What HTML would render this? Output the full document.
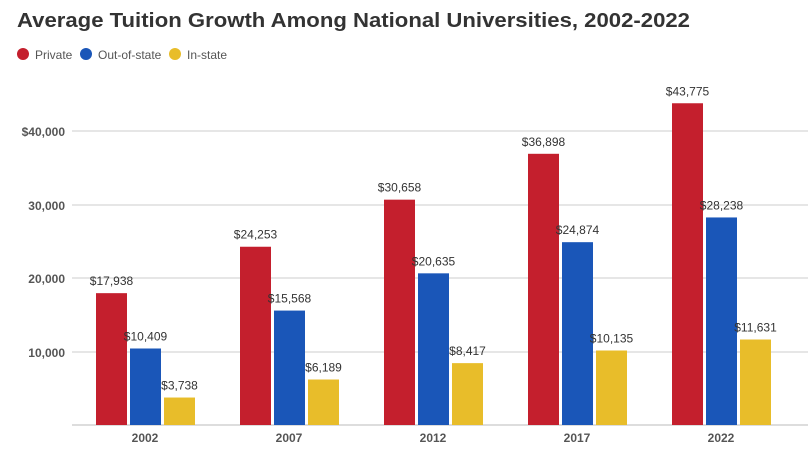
<!DOCTYPE html>
<html><head><meta charset="utf-8"><style>
body{margin:0;background:#fff;width:808px;height:457px;overflow:hidden}
svg{font-family:"Liberation Sans",sans-serif}
</style></head><body>
<svg width="808" height="457" viewBox="0 0 808 457">
<text x="17" y="27" font-size="20.5" font-weight="bold" fill="#333" textLength="673" lengthAdjust="spacingAndGlyphs">Average Tuition Growth Among National Universities, 2002-2022</text>
<circle cx="23" cy="54" r="6" fill="#c41f2d"/><text x="35" y="59" font-size="12" fill="#555">Private</text>
<circle cx="86" cy="54" r="6" fill="#1a56b8"/><text x="98" y="59" font-size="12" fill="#555">Out-of-state</text>
<circle cx="175" cy="54" r="6" fill="#e8bd2a"/><text x="187" y="59" font-size="12" fill="#555">In-state</text>
<g stroke="#ccc" stroke-width="1">
<line x1="72" x2="808" y1="131" y2="131"/><line x1="72" x2="808" y1="205" y2="205"/>
<line x1="72" x2="808" y1="278" y2="278"/><line x1="72" x2="808" y1="352" y2="352"/>
<line x1="72" x2="808" y1="425" y2="425" stroke="#bbb"/></g>
<g font-size="12" fill="#555" font-weight="bold" text-anchor="end">
<text x="65" y="136">$40,000</text><text x="65" y="210">30,000</text>
<text x="65" y="283">20,000</text><text x="65" y="357">10,000</text></g>
<g id="bars"></g>
</svg>
<script>
const d=[["2002",17938,10409,3738],["2007",24253,15568,6189],["2012",30658,20635,8417],["2017",36898,24874,10135],["2022",43775,28238,11631]];
const c=["#c41f2d","#1a56b8","#e8bd2a"];let s="";
d.forEach((r,i)=>{const x0=96+144*i;
for(let k=0;k<3;k++){const v=r[k+1],h=v*73.5/10000,x=x0+34*k,y=425-h;
s+=`<rect x="${x}" y="${y}" width="31" height="${h}" fill="${c[k]}"/>`;
s+=`<text x="${x+15.5}" y="${y-8}" font-size="12" fill="#333" text-anchor="middle">$${v.toLocaleString("en-US")}</text>`;}
s+=`<text x="${x0+49}" y="442" font-size="12" font-weight="bold" fill="#555" text-anchor="middle">${r[0]}</text>`;});
document.getElementById("bars").innerHTML=s;
</script>
</body></html>
